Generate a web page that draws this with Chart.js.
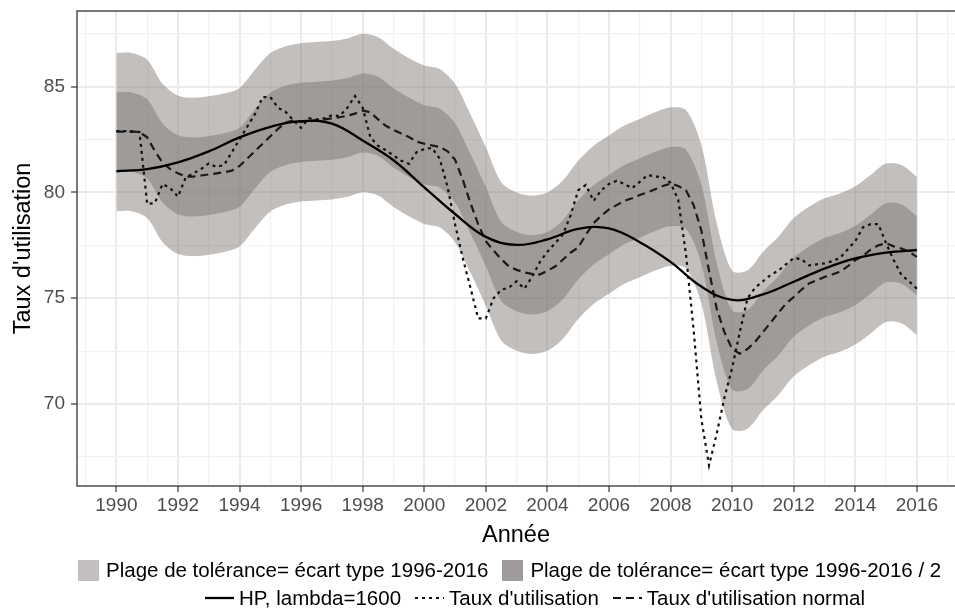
<!DOCTYPE html>
<html lang="fr">
<head>
    <meta charset="UTF-8">
    <title>Taux d'utilisation</title>
    <script src="https://cdn.jsdelivr.net/npm/chart.js"></script>
    <style>
        html, body { margin: 0; padding: 0; background: #fff; }
        body { font-family: "Liberation Sans", Arial, sans-serif; }
        #wrap { position: relative; width: 955px; height: 612px; }
        #chart { position: absolute; left: 0; top: 0; }
        .legend-row {
            position: absolute;
            display: flex;
            align-items: center;
            font-size: 20.5px;
            color: #000;
            white-space: nowrap;
        }
        .swatch { width: 21px; height: 21px; margin-right: 7px; }
        .key { margin-right: 5px; }
        .item { display: flex; align-items: center; margin-right: 14px; }
    </style>
</head>
<body>
<div id="wrap">
    <canvas id="chart" width="955" height="612"></canvas>

    <div class="legend-row" style="left:78px; top:558px;">
        <div class="item"><div class="swatch" style="background:#c3bfbe"></div>Plage de tolérance= écart type 1996-2016</div>
        <div class="item"><div class="swatch" style="background:#9f9b9a"></div>Plage de tolérance= écart type 1996-2016 / 2</div>
    </div>
    <div class="legend-row" style="left:205px; top:586px;">
        <div class="item"><svg class="key" width="29" height="10"><line x1="0" y1="5" x2="29" y2="5" stroke="#000" stroke-width="2.3"/></svg>HP, lambda=1600</div>
        <div class="item"><svg class="key" width="29" height="10"><line x1="0" y1="5" x2="29" y2="5" stroke="#111" stroke-width="2.2" stroke-dasharray="3 4"/></svg>Taux d'utilisation</div>
        <div class="item"><svg class="key" width="29" height="10"><line x1="0" y1="5" x2="29" y2="5" stroke="#111" stroke-width="2.2" stroke-dasharray="8 5"/></svg>Taux d'utilisation normal</div>
    </div>
</div>

<script>
    // tick positions (odd years = minor grid, even years labelled)
    const yearTicks = [1989, 1990, 1991, 1992, 1993, 1994, 1995, 1996, 1997, 1998, 1999, 2000, 2001, 2002, 2003,
        2004, 2005, 2006, 2007, 2008, 2009, 2010, 2011, 2012, 2013, 2014, 2015, 2016, 2017];
    const valueTicks = [67.5, 70, 72.5, 75, 77.5, 80, 82.5, 85, 87.5];

    // tolerance bands (half-yearly)
    const bandYears = [1990, 1990.5, 1991, 1991.5, 1992, 1992.5, 1993, 1993.5, 1994, 1994.5, 1995, 1995.5,
        1996, 1996.5, 1997, 1997.5, 1998, 1998.5, 1999, 1999.5, 2000, 2000.5, 2001, 2001.5, 2002, 2002.5,
        2003, 2003.5, 2004, 2004.5, 2005, 2005.5, 2006, 2006.5, 2007, 2007.5, 2008, 2008.5, 2009, 2009.5,
        2010, 2010.5, 2011, 2011.5, 2012, 2012.5, 2013, 2013.5, 2014, 2014.5, 2015, 2015.5, 2016];
    const outerHigh = [86.59, 86.59, 86.27, 85.13, 84.57, 84.47, 84.54, 84.67, 84.93, 85.79, 86.58, 86.91,
        87.05, 87.10, 87.15, 87.27, 87.49, 87.33, 86.79, 86.35, 85.99, 85.83, 85.13, 83.68, 82.13, 80.48,
        80.00, 79.85, 80.00, 80.56, 81.50, 82.21, 82.69, 83.16, 83.47, 83.79, 84.02, 83.89, 82.24, 78.54,
        76.30, 76.32, 77.19, 77.90, 78.79, 79.32, 79.72, 79.95, 80.29, 80.82, 81.36, 81.30, 80.74];
    const outerLow = [79.11, 79.11, 78.79, 77.65, 77.09, 76.99, 77.06, 77.19, 77.45, 78.31, 79.10, 79.43,
        79.57, 79.62, 79.67, 79.79, 80.01, 79.85, 79.31, 78.87, 78.51, 78.35, 77.65, 76.20, 74.65, 73.00,
        72.52, 72.37, 72.52, 73.08, 74.02, 74.73, 75.21, 75.68, 75.99, 76.31, 76.54, 76.41, 74.76, 71.06,
        68.82, 68.84, 69.71, 70.42, 71.31, 71.84, 72.24, 72.47, 72.81, 73.34, 73.88, 73.82, 73.26];
    const innerHigh = [84.72, 84.72, 84.40, 83.26, 82.70, 82.60, 82.67, 82.80, 83.06, 83.92, 84.71, 85.04,
        85.18, 85.23, 85.28, 85.40, 85.62, 85.46, 84.92, 84.48, 84.12, 83.96, 83.26, 81.81, 80.26, 78.61,
        78.13, 77.98, 78.13, 78.69, 79.63, 80.34, 80.82, 81.29, 81.60, 81.92, 82.15, 82.02, 80.37, 76.67,
        74.43, 74.45, 75.32, 76.03, 76.92, 77.45, 77.85, 78.08, 78.42, 78.95, 79.49, 79.43, 78.87];
    const innerLow = [80.98, 80.98, 80.66, 79.52, 78.96, 78.86, 78.93, 79.06, 79.32, 80.18, 80.97, 81.30,
        81.44, 81.49, 81.54, 81.66, 81.88, 81.72, 81.18, 80.74, 80.38, 80.22, 79.52, 78.07, 76.52, 74.87,
        74.39, 74.24, 74.39, 74.95, 75.89, 76.60, 77.08, 77.55, 77.86, 78.18, 78.41, 78.28, 76.63, 72.93,
        70.69, 70.71, 71.58, 72.29, 73.18, 73.71, 74.11, 74.34, 74.68, 75.21, 75.75, 75.69, 75.13];

    // HP filter trend (yearly)
    const hpYears = [1990, 1991, 1992, 1993, 1994, 1995, 1996, 1997, 1998, 1999, 2000, 2001, 2002, 2003,
        2004, 2005, 2006, 2007, 2008, 2009, 2010, 2011, 2012, 2013, 2014, 2015, 2016];
    const hpTrend = [81.0, 81.1, 81.42, 81.94, 82.6, 83.1, 83.37, 83.25, 82.45, 81.52, 80.24, 78.98, 77.9,
        77.52, 77.78, 78.28, 78.3, 77.65, 76.72, 75.55, 74.92, 75.18, 75.78, 76.4, 76.88, 77.15, 77.28];

    // quarterly series
    const quarters = [];
    for (let q = 0; q <= 104; q++) quarters.push(1990 + q / 4);

    const tauxUtil = [
        82.9, 82.9, 82.88, 82.85,  79.45, 79.5, 80.4, 80.2,  79.8, 80.7, 80.9, 81.1,  81.37, 81.2, 81.3, 81.9,
        82.5, 83.1, 83.7, 84.5,  84.5, 84.0, 83.8, 83.4,  83.05, 83.5, 83.45, 83.5,  83.65, 83.6, 84.0, 84.55,
        84.0, 82.6, 82.2, 82.0,  81.75, 81.5, 81.35, 81.9,
        82.05, 82.1, 81.6, 80.3,  78.5, 76.9, 75.5, 74.05,  74.05, 75.0, 75.4, 75.5,  75.8, 75.45, 76.0, 76.7,
        77.2, 77.6, 78.0, 78.9,  80.1, 80.35, 79.6, 80.1,  80.4, 80.55, 80.4, 80.2,  80.5, 80.82, 80.75, 80.74,
        80.45, 79.65, 77.1, 73.5,  69.3, 67.1, 68.6, 70.3,  71.7, 73.4, 75.0, 75.5,  75.8, 76.1, 76.3, 76.6,
        76.9, 76.85, 76.55, 76.6,  76.65, 76.75, 76.9, 77.3,  77.7, 78.35, 78.5, 78.5,  77.6, 76.8, 76.1, 75.8,
        75.45];
    const tauxNormal = [
        82.87, 82.87, 82.87, 82.85,  82.6, 81.95, 81.4, 81.1,  80.9, 80.75, 80.75, 80.8,  80.85, 80.9, 80.95, 81.03,
        81.25, 81.6, 81.95, 82.3,  82.65, 83.0, 83.3, 83.4,  83.33, 83.36, 83.4, 83.45,  83.5, 83.55, 83.62, 83.72,
        83.87, 83.78, 83.45, 83.15,  82.95, 82.78, 82.62, 82.4,
        82.3, 82.22, 82.15, 81.95,  81.55, 80.6, 79.5, 78.5,  77.7, 77.25, 76.85, 76.5,  76.34, 76.22, 76.15, 76.12,
        76.3, 76.5, 76.82, 77.15,  77.4, 78.0, 78.55, 78.9,  79.2, 79.4, 79.6, 79.72,  79.88, 80.0, 80.15, 80.3,
        80.42, 80.3, 80.1, 79.4,  78.2, 76.3, 74.5, 73.4,  72.6, 72.38, 72.6, 72.95,  73.4, 73.85, 74.3, 74.75,
        75.05, 75.4, 75.7, 75.85,  76.0, 76.12, 76.25, 76.5,  76.8, 77.0, 77.3, 77.5,  77.6, 77.45, 77.35, 77.2,
        76.95];

    function pts(xs, ys) {
        return xs.map((x, i) => ({ x: x, y: ys[i] }));
    }

    const panelBorder = {
        id: 'panelBorder',
        afterDatasetsDraw(chart) {
            const { ctx, chartArea: a } = chart;
            ctx.save();
            ctx.strokeStyle = '#333333';
            ctx.lineWidth = 1.3;
            ctx.strokeRect(a.left, a.top, a.right - a.left + 2, a.bottom - a.top);
            ctx.restore();
        }
    };

    const fam = "'Liberation Sans', Arial, sans-serif";
    const titleFont = { family: fam, size: 23.5 };
    const isEven = (v) => Math.abs(v % 2) < 1e-6;
    const isFive = (v) => Math.abs(v % 5) < 1e-6;
    // unlabelled ticks get a tiny font so they don't push the plot area around
    const xTickFont = (ctx) => ({ family: fam, size: ctx.tick && isEven(ctx.tick.value) ? 19 : 1 });
    const yTickFont = (ctx) => ({ family: fam, size: ctx.tick && isFive(ctx.tick.value) ? 19 : 1 });

    new Chart(document.getElementById('chart').getContext('2d'), {
        type: 'line',
        data: {
            datasets: [
                { label: 'HP, lambda=1600', data: pts(hpYears, hpTrend), borderColor: '#000', borderWidth: 2.3,
                  pointRadius: 0, tension: 0.4, fill: false, order: 1 },
                { label: "Taux d'utilisation", data: pts(quarters, tauxUtil), borderColor: '#111', borderWidth: 2.2,
                  borderDash: [3, 4], pointRadius: 0, tension: 0, fill: false, order: 2 },
                { label: "Taux d'utilisation normal", data: pts(quarters, tauxNormal), borderColor: '#1a1a1a', borderWidth: 2.2,
                  borderDash: [8, 5], pointRadius: 0, tension: 0, fill: false, order: 3 },
                { label: 'outerLow', data: pts(bandYears, outerLow), borderWidth: 0, pointRadius: 0,
                  tension: 0.3, fill: false, order: 10 },
                { label: 'outerHigh', data: pts(bandYears, outerHigh), borderWidth: 0, pointRadius: 0,
                  tension: 0.3, fill: '-1', backgroundColor: 'rgba(115,106,103,0.43)', order: 10 },
                { label: 'innerLow', data: pts(bandYears, innerLow), borderWidth: 0, pointRadius: 0,
                  tension: 0.3, fill: false, order: 9 },
                { label: 'innerHigh', data: pts(bandYears, innerHigh), borderWidth: 0, pointRadius: 0,
                  tension: 0.3, fill: '-1', backgroundColor: 'rgba(123,119,118,0.5)', order: 9 }
            ]
        },
        options: {
            responsive: false,
            animation: false,
            devicePixelRatio: 1,
            layout: { padding: { top: 11, left: 0, right: 0, bottom: 60 } },
            plugins: { legend: { display: false }, tooltip: { enabled: false } },
            scales: {
                x: {
                    type: 'linear',
                    min: 1988.72,
                    max: 2017.24,
                    afterBuildTicks: (scale) => { scale.ticks = yearTicks.map(v => ({ value: v })); },
                    afterFit: (scale) => { scale.height = 66; },
                    border: { display: false },
                    grid: {
                        color: (ctx) => isEven(ctx.tick.value) ? '#ebebeb' : '#f1f1f1',
                        lineWidth: (ctx) => isEven(ctx.tick.value) ? 2 : 1.2,
                        tickColor: (ctx) => isEven(ctx.tick.value) ? '#333333' : 'rgba(0,0,0,0)',
                        tickWidth: 1.2,
                        tickLength: 6
                    },
                    ticks: {
                        autoSkip: false,
                        maxRotation: 0,
                        padding: 2,
                        color: '#4d4d4d',
                        font: xTickFont,
                        callback: (v) => isEven(v) ? String(v) : ''
                    },
                    title: { display: true, text: 'Année', color: '#000', font: titleFont,
                             padding: { top: 0, bottom: 2 } }
                },
                y: {
                    min: 66.13,
                    max: 88.57,
                    afterBuildTicks: (scale) => { scale.ticks = valueTicks.map(v => ({ value: v })); },
                    afterFit: (scale) => { scale.width = 77; },
                    border: { display: false },
                    grid: {
                        color: (ctx) => isFive(ctx.tick.value) ? '#ebebeb' : '#f1f1f1',
                        lineWidth: (ctx) => isFive(ctx.tick.value) ? 2 : 1.2,
                        tickColor: (ctx) => isFive(ctx.tick.value) ? '#333333' : 'rgba(0,0,0,0)',
                        tickWidth: 1.2,
                        tickLength: 6
                    },
                    ticks: {
                        autoSkip: false,
                        padding: 6,
                        color: '#4d4d4d',
                        font: yTickFont,
                        callback: (v) => isFive(v) ? String(v) : ''
                    },
                    title: { display: true, text: "Taux d'utilisation", color: '#000', font: titleFont,
                             padding: { top: 9, bottom: 0 } }
                }
            }
        },
        plugins: [panelBorder]
    });
</script>
</body>
</html>
